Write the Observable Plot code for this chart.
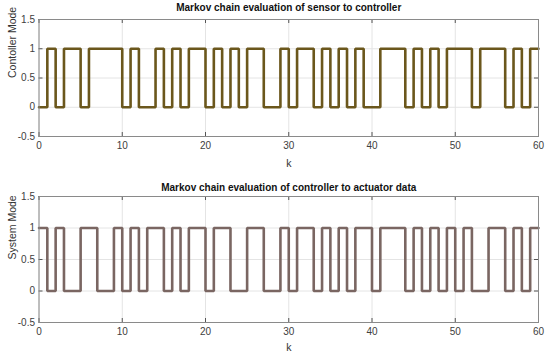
<!DOCTYPE html>
<html>
<head>
<meta charset="utf-8">
<script src="https://cdn.jsdelivr.net/npm/d3@7"></script>
<script src="https://cdn.jsdelivr.net/npm/@observablehq/plot@0.6"></script>
<style>
  html, body { margin: 0; padding: 0; background: #fff; }
  #chart { width: 550px; height: 355px; overflow: hidden; }
  #chart svg { display: block; }
</style>
</head>
<body>
<div id="chart"></div>
<script>
const k = d3.range(0, 61);
const sensorMode = [0,1,0,1,1,0,1,1,1,1,0,1,0,0,1,0,1,0,1,1,0,1,0,1,0,1,1,0,0,1,0,1,1,0,1,0,1,0,1,0,0,1,1,1,0,1,0,1,0,1,1,1,0,1,1,1,0,1,0,1,1];
const actuatorMode = [1,0,1,0,0,1,1,0,0,1,0,1,0,1,1,0,1,0,1,1,0,1,1,0,0,1,1,0,0,1,0,1,1,0,1,0,1,0,1,1,0,1,1,1,0,1,0,1,0,1,0,1,0,0,1,1,0,1,0,1,1];
const xTicks = [0, 10, 20, 30, 40, 50, 60];
const yTicks = [-0.5, 0, 0.5, 1, 1.5];
const titles = ["Markov chain evaluation of sensor to controller", "Markov chain evaluation of controller to actuator data"];
const yLabels = ["Contoller Mode", "System Mode"];

function panel({title, ylabel, values, color, height, marginTop, marginBottom, kOffset}) {
  const rows = k.map((kk, i) => ({k: kk, v: values[i]}));
  const ph = height - marginTop - marginBottom;
  const tickLenY = 4 * 2 / ph;          // ~4px in y data units
  const tickLenX = 4 * 60 / 499.5;      // ~4px in x data units
  return Plot.plot({
    width: 550,
    height,
    marginLeft: 38.5,
    marginRight: 12,
    marginTop,
    marginBottom,
    style: {fontFamily: "Liberation Sans, Arial, sans-serif", fontSize: "10px", color: "#404040", background: "#fff"},
    x: {domain: [0, 60], ticks: xTicks, tickSize: 0, tickPadding: 5, label: null},
    y: {domain: [-0.5, 1.5], ticks: yTicks, tickSize: 0, tickPadding: 4, label: null, tickFormat: d => String(d)},
    marks: [
      Plot.gridX(xTicks, {stroke: "#e4e4e4", strokeOpacity: 1}),
      Plot.gridY(yTicks, {stroke: "#e4e4e4", strokeOpacity: 1}),
      // inward tick marks (bottom/top, left/right)
      Plot.ruleX(xTicks, {y1: -0.5, y2: -0.5 + tickLenY, stroke: "#555"}),
      Plot.ruleX(xTicks, {y1: 1.5, y2: 1.5 - tickLenY, stroke: "#555"}),
      Plot.ruleY(yTicks, {x1: 0, x2: tickLenX, stroke: "#555"}),
      Plot.ruleY(yTicks, {x1: 60, x2: 60 - tickLenX, stroke: "#555"}),
      Plot.line(rows, {x: "k", y: "v", curve: "step-after", stroke: color, strokeWidth: 2.6, strokeLinejoin: "miter"}),
      Plot.frame({stroke: "#8a8a8a", strokeWidth: 1}),
      Plot.text([title], {frameAnchor: "top", dy: -marginTop + 3, lineAnchor: "top", fontWeight: "bold", fontSize: 10, fill: "#111"}),
      Plot.text([ylabel], {frameAnchor: "left", dx: -26.5, rotate: -90, fontSize: 10.5, fill: "#333"}),
      Plot.text(["k"], {frameAnchor: "bottom", dy: kOffset, lineAnchor: "middle", fontSize: 10.5, fill: "#333"})
    ]
  });
}

const chart = document.getElementById("chart");
chart.append(panel({title: titles[0], ylabel: yLabels[0], values: sensorMode, color: "#6b571c", height: 180, marginTop: 19, marginBottom: 44, kOffset: 27}));
chart.append(panel({title: titles[1], ylabel: yLabels[1], values: actuatorMode, color: "#7a6662", height: 175, marginTop: 16, marginBottom: 33, kOffset: 25}));
</script>
</body>
</html>
